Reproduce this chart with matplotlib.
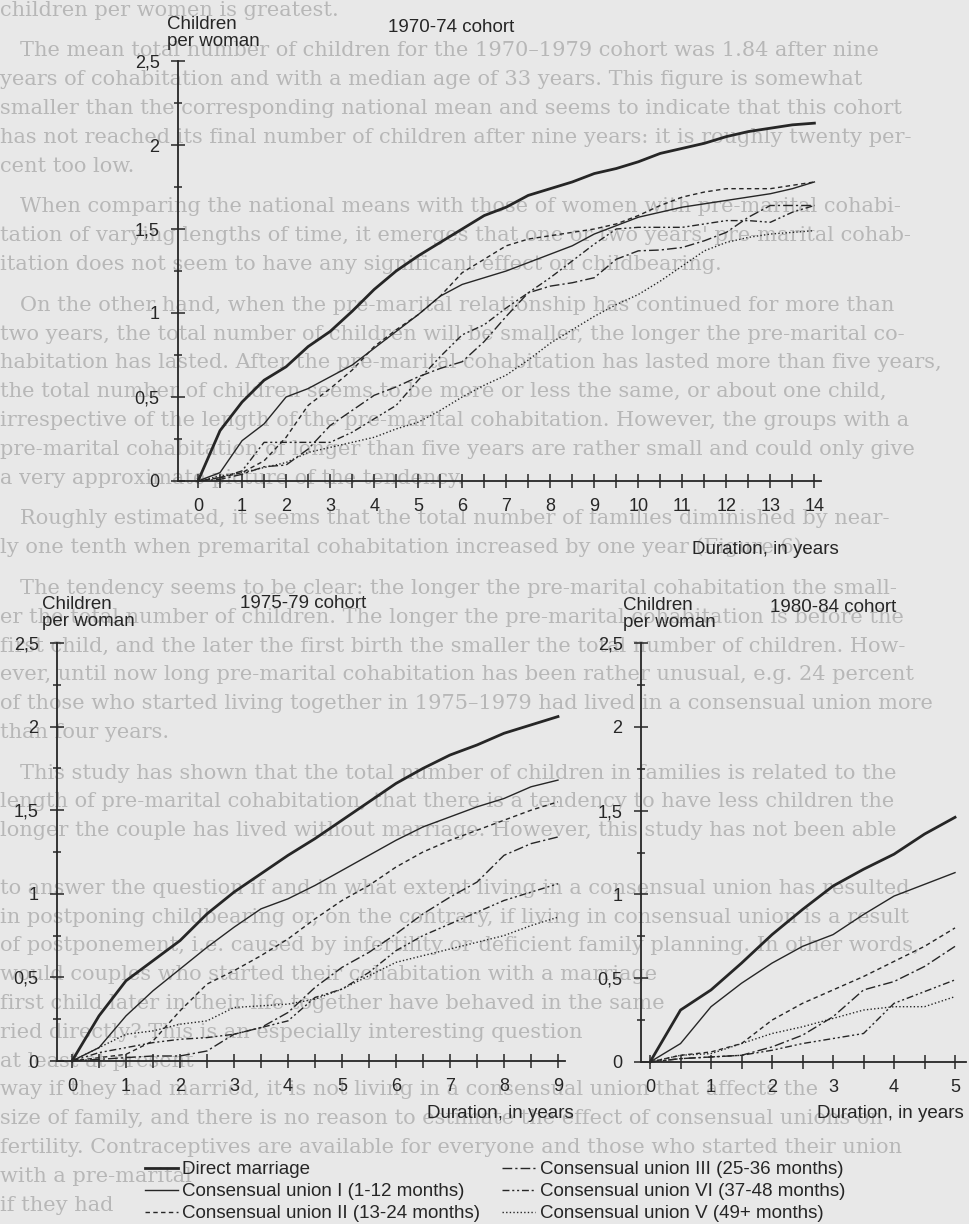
import matplotlib

matplotlib.use("Agg")
import matplotlib.pyplot as plt
import matplotlib.ticker as mticker
from matplotlib.lines import Line2D

W, H = 970, 1224
INK = "#262626"
PAPER = "#e8e8e8"
BLEED = "#b7b7b7"
FS = 13.5

plt.rcParams.update({"font.family": ["Liberation Sans", "DejaVu Sans"], "font.size": FS})

# ---- data (children per woman, by duration in years) ----
LABELS = [
    "Direct marriage",
    "Consensual union I (1-12 months)",
    "Consensual union II (13-24 months)",
    "Consensual union III (25-36 months)",
    "Consensual union VI (37-48 months)",
    "Consensual union V (49+ months)",
]

years_7074 = [0, 0.5, 1, 1.5, 2, 2.5, 3, 3.5, 4, 4.5, 5, 5.5, 6, 6.5, 7, 7.5, 8, 8.5, 9, 9.5,
              10, 10.5, 11, 11.5, 12, 12.5, 13, 13.5, 14]
direct_7074 = [0, 0.30, 0.47, 0.60, 0.68, 0.80, 0.89, 1.01, 1.14, 1.25, 1.34, 1.42, 1.50, 1.58, 1.63,
               1.70, 1.74, 1.78, 1.83, 1.86, 1.90, 1.95, 1.98, 2.01, 2.05, 2.08, 2.10, 2.12, 2.13]
cu1_7074 = [0, 0.05, 0.24, 0.34, 0.50, 0.55, 0.62, 0.69, 0.79, 0.89, 0.99, 1.10, 1.17, 1.21, 1.25,
            1.30, 1.35, 1.40, 1.47, 1.52, 1.57, 1.60, 1.63, 1.65, 1.67, 1.69, 1.71, 1.74, 1.78]
cu2_7074 = [0, 0.02, 0.05, 0.12, 0.26, 0.45, 0.55, 0.66, 0.80, 0.90, 0.99, 1.10, 1.24, 1.32, 1.40,
            1.44, 1.46, 1.48, 1.50, 1.53, 1.58, 1.64, 1.69, 1.72, 1.74, 1.74, 1.74, 1.76, 1.78]
cu3_7074 = [0, 0.01, 0.04, 0.085, 0.095, 0.19, 0.33, 0.42, 0.51, 0.56, 0.62, 0.67, 0.71, 0.83, 0.98,
            1.12, 1.16, 1.18, 1.21, 1.32, 1.37, 1.375, 1.39, 1.43, 1.48, 1.57, 1.64, 1.64, 1.64]
cu4_7074 = [0, 0.02, 0.06, 0.23, 0.23, 0.23, 0.23, 0.29, 0.37, 0.45, 0.60, 0.74, 0.87, 0.93, 1.03,
            1.12, 1.21, 1.31, 1.41, 1.50, 1.51, 1.51, 1.51, 1.53, 1.55, 1.55, 1.54, 1.60, 1.64]
cu5_7074 = [0, 0.03, 0.05, 0.08, 0.11, 0.17, 0.20, 0.23, 0.26, 0.31, 0.35, 0.42, 0.50, 0.57, 0.63,
            0.72, 0.82, 0.90, 0.98, 1.05, 1.11, 1.19, 1.28, 1.37, 1.42, 1.45, 1.47, 1.48, 1.49]

years_7579 = [0, 0.5, 1, 1.5, 2, 2.5, 3, 3.5, 4, 4.5, 5, 5.5, 6, 6.5, 7, 7.5, 8, 8.5, 9]
direct_7579 = [0, 0.27, 0.48, 0.60, 0.72, 0.88, 1.01, 1.12, 1.23, 1.33, 1.44, 1.55, 1.66, 1.75, 1.83,
               1.89, 1.96, 2.01, 2.06]
cu1_7579 = [0, 0.08, 0.27, 0.42, 0.55, 0.68, 0.80, 0.91, 0.97, 1.05, 1.14, 1.23, 1.32, 1.40, 1.46,
            1.52, 1.57, 1.64, 1.68]
cu2_7579 = [0, 0.02, 0.04, 0.12, 0.30, 0.46, 0.54, 0.63, 0.73, 0.85, 0.96, 1.05, 1.16, 1.25, 1.32,
            1.38, 1.44, 1.50, 1.55]
cu3_7579 = [0, 0.01, 0.02, 0.03, 0.03, 0.06, 0.16, 0.20, 0.29, 0.44, 0.56, 0.65, 0.76, 0.88, 0.98,
            1.07, 1.23, 1.30, 1.34]
cu4_7579 = [0, 0.05, 0.08, 0.11, 0.13, 0.14, 0.16, 0.20, 0.24, 0.38, 0.43, 0.53, 0.66, 0.75, 0.82,
            0.89, 0.96, 1.01, 1.06]
cu5_7579 = [0, 0.08, 0.16, 0.18, 0.22, 0.24, 0.32, 0.33, 0.34, 0.37, 0.43, 0.51, 0.59, 0.63, 0.67,
            0.71, 0.75, 0.81, 0.86]

years_8084 = [0, 0.5, 1, 1.5, 2, 2.5, 3, 3.5, 4, 4.5, 5]
direct_8084 = [0, 0.31, 0.43, 0.59, 0.76, 0.91, 1.05, 1.15, 1.24, 1.36, 1.46]
cu1_8084 = [0, 0.11, 0.33, 0.47, 0.59, 0.69, 0.76, 0.88, 0.99, 1.06, 1.13]
cu2_8084 = [0, 0.04, 0.06, 0.11, 0.25, 0.35, 0.43, 0.51, 0.60, 0.69, 0.80]
cu3_8084 = [0, 0.02, 0.03, 0.04, 0.09, 0.16, 0.27, 0.43, 0.48, 0.57, 0.69]
cu4_8084 = [0, 0.02, 0.03, 0.04, 0.07, 0.11, 0.14, 0.17, 0.35, 0.42, 0.49]
cu5_8084 = [0, 0.04, 0.05, 0.11, 0.17, 0.21, 0.26, 0.31, 0.33, 0.33, 0.39]

# faint page text showing through the scan
page_text = [
    ["children per women is greatest."],
    ["The mean total number of children for the 1970\u20131979 cohort was 1.84 after nine",
     "years of cohabitation and with a median age of 33 years. This figure is somewhat",
     "smaller than the corresponding national mean and seems to indicate that this cohort",
     "has not reached its final number of children after nine years: it is roughly twenty per-",
     "cent too low."],
    ["When comparing the national means with those of women with pre-marital cohabi-",
     "tation of varying lengths of time, it emerges that one or two years' pre-marital cohab-",
     "itation does not seem to have any significant effect on childbearing."],
    ["On the other hand, when the pre-marital relationship has continued for more than",
     "two years, the total number of children will be smaller, the longer the pre-marital co-",
     "habitation has lasted. After the pre-marital cohabitation has lasted more than five years,",
     "the total number of children seems to be more or less the same, or about one child,",
     "irrespective of the length of the pre-marital cohabitation. However, the groups with a",
     "pre-marital cohabitation of longer than five years are rather small and could only give",
     "a very approximate picture of the tendency."],
    ["Roughly estimated, it seems that the total number of families diminished by near-",
     "ly one tenth when premarital cohabitation increased by one year (Figure 6)."],
    ["The tendency seems to be clear: the longer the pre-marital cohabitation the small-",
     "er the total number of children. The longer the pre-marital cohabitation is before the",
     "first child, and the later the first birth the smaller the total number of children. How-",
     "ever, until now long pre-marital cohabitation has been rather unusual, e.g. 24 percent",
     "of those who started living together in 1975\u20131979 had lived in a consensual union more",
     "than four years."],
    ["This study has shown that the total number of children in families is related to the",
     "length of pre-marital cohabitation, that there is a tendency to have less children the",
     "longer the couple has lived without marriage. However, this study has not been able",
     "",
     "to answer the question if and in what extent living in a consensual union has resulted",
     "in postponing childbearing or, on the contrary, if living in consensual union is a result",
     "of postponement, i.e. caused by infertility or deficient family planning. In other words,",
     "would couples who started their cohabitation with a marriage",
     "first child later in their life together have behaved in the same",
     "ried directly? This is an especially interesting question",
     "at least at present",
     "way if they had married, it is not living in a consensual union that affects the",
     "size of family, and there is no reason to estimate the effect of consensual unions on",
     "fertility. Contraceptives are available for everyone and those who started their union",
     "with a pre-marital",
     "if they had"],
]

STYLES = [
    {"lw": 2.0, "ls": "-"},
    {"lw": 1.0, "ls": "-"},
    {"lw": 1.0, "ls": (0, (3.2, 2.4))},
    {"lw": 1.0, "ls": (0, (7, 2.2, 1.6, 2.2))},
    {"lw": 1.0, "ls": (0, (5, 2, 1.5, 2, 1.5, 2))},
    {"lw": 1.0, "ls": (0, (1, 1.6))},
]


def axes_rect(left, right, top, bottom):
    return [left / W, 1 - bottom / H, (right - left) / W, (bottom - top) / H]


def fig_xy(x, y):
    return x / W, 1 - y / H


def comma(value, _pos):
    return f"{value:g}".replace(".", ",")


def draw_panel(fig, rect, xlim, years, series):
    ax = fig.add_axes(rect)
    for values, style in zip(series, STYLES):
        ax.plot(years, values, color=INK, clip_on=False, dash_capstyle="butt", **style)
    ax.set_xlim(*xlim)
    ax.set_ylim(0, 2.5)
    ax.patch.set_visible(False)
    for side in ("top", "right"):
        ax.spines[side].set_visible(False)
    for side in ("left", "bottom"):
        ax.spines[side].set_linewidth(1.3)
        ax.spines[side].set_color(INK)
    ax.xaxis.set_major_locator(mticker.MultipleLocator(1))
    ax.xaxis.set_minor_locator(mticker.MultipleLocator(0.5))
    ax.yaxis.set_major_locator(mticker.MultipleLocator(0.5))
    ax.yaxis.set_minor_locator(mticker.MultipleLocator(0.25))
    ax.yaxis.set_major_formatter(mticker.FuncFormatter(comma))
    ax.tick_params(axis="x", which="both", direction="inout", length=10, width=1.1, color=INK)
    ax.tick_params(axis="x", which="major", pad=7, labelsize=13, labelcolor=INK)
    ax.tick_params(axis="y", which="major", direction="inout", length=9.5, width=1.1, color=INK,
                   pad=8.5, labelsize=13, labelcolor=INK)
    ax.tick_params(axis="y", which="minor", direction="inout", length=6, width=1.1, color=INK)
    return ax


def label(fig, x, y, text, **kw):
    fig.text(*fig_xy(x, y), text, color=INK, fontsize=FS, **kw)


fig = plt.figure(figsize=(W / 100, H / 100), dpi=100, facecolor=PAPER)

# background page text
y = 10
for p, para in enumerate(page_text):
    for i, line in enumerate(para):
        indent = 20 if (i == 0 and p > 0) else 0
        if line:
            fig.text(*fig_xy(indent, y), line, family="DejaVu Serif", fontsize=15, color=BLEED,
                     va="center", ha="left", zorder=-5)
        y += 28.8
    y += 12

draw_panel(fig, axes_rect(178, 821, 61, 481), (-0.455, 14.15), years_7074,
           [direct_7074, cu1_7074, cu2_7074, cu3_7074, cu4_7074, cu5_7074])
draw_panel(fig, axes_rect(57, 565, 643, 1061), (-0.278, 9.13), years_7579,
           [direct_7579, cu1_7579, cu2_7579, cu3_7579, cu4_7579, cu5_7579])
draw_panel(fig, axes_rect(641, 966, 643, 1062), (-0.148, 5.18), years_8084,
           [direct_8084, cu1_8084, cu2_8084, cu3_8084, cu4_8084, cu5_8084])

label(fig, 167, 33, "Children\nper woman", ha="left", va="center", linespacing=1.05)
label(fig, 388, 27, "1970-74 cohort", ha="left", va="center")
label(fig, 692, 550, "Duration, in years", ha="left", va="center")

label(fig, 42, 613, "Children\nper woman", ha="left", va="center", linespacing=1.05)
label(fig, 240, 604, "1975-79 cohort", ha="left", va="center")
label(fig, 427, 1113, "Duration, in years", ha="left", va="center")

label(fig, 623, 614, "Children\nper woman", ha="left", va="center", linespacing=1.05)
label(fig, 770, 608, "1980-84 cohort", ha="left", va="center")
label(fig, 817, 1113, "Duration, in years", ha="left", va="center")

handles = [Line2D([], [], color=INK, dash_capstyle="butt", **style) for style in STYLES]
for cols, x0 in ((slice(0, 3), 145), (slice(3, 6), 502)):
    leg = fig.legend(handles[cols], LABELS[cols], loc="upper left",
                     bbox_to_anchor=fig_xy(x0, 1161), bbox_transform=fig.transFigure,
                     frameon=False, borderpad=0, borderaxespad=0, handlelength=1.75,
                     handletextpad=0.25, labelspacing=0.26, fontsize=FS)
    for t in leg.get_texts():
        t.set_color(INK)

fig.savefig("out.png", dpi=100, facecolor=PAPER)
